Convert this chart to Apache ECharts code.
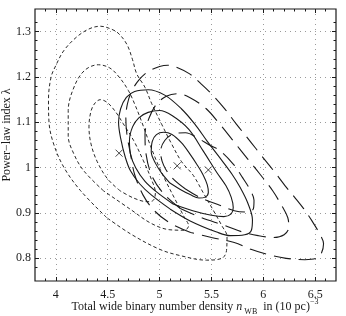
<!DOCTYPE html>
<html><head><meta charset="utf-8">
<script src="https://cdn.jsdelivr.net/npm/echarts@6/dist/echarts.min.js"></script>
<style>html,body{margin:0;padding:0;background:#fff}#c{width:346px;height:316px}</style>
</head><body><div id="c"></div>
<script>
// tick labels
const xTickLabels = [4, 4.5, 5, 5.5, 6, 6.5];
const yTickLabels = [0.8, 0.9, 1, 1.1, 1.2, 1.3];

// best-fit markers (x)
const bestFits = [[4.61, 1.032], [5.17, 1.004], [5.47, 0.995]];

// short-dashed contours (outer -> inner)
const dotted1 = [[4.49,0.89],[4.24,0.949],[4.08,1.0],[3.98,1.052],[3.935,1.10],[3.93,1.15],[3.955,1.20],[4.0,1.225],[4.077,1.258],[4.20,1.288],[4.32,1.306],[4.43,1.312],[4.52,1.307],[4.60,1.297],[4.685,1.272],[4.74,1.238],[4.78,1.207],[4.86,1.177],[4.925,1.141],[5.02,1.096],[5.117,1.052],[5.213,1.013],[5.325,0.983],[5.42,0.945],[5.52,0.905],[5.60,0.872],[5.65,0.848],[5.645,0.817],[5.60,0.800],[5.45,0.796],[5.20,0.806],[5.0,0.820],[4.72,0.854],[4.49,0.89]];
const dotted2 = [[4.46,0.949],[4.27,0.993],[4.175,1.03],[4.12,1.07],[4.12,1.126],[4.18,1.18],[4.28,1.215],[4.41,1.227],[4.52,1.220],[4.61,1.200],[4.70,1.170],[4.77,1.135],[4.83,1.100],[4.89,1.062],[4.97,1.015],[5.05,0.975],[5.15,0.930],[5.24,0.890],[5.28,0.872],[5.24,0.862],[5.10,0.863],[4.92,0.877],[4.72,0.908],[4.46,0.949]];
const dotted3 = [[4.62,0.949],[4.50,0.975],[4.40,1.013],[4.34,1.052],[4.32,1.09],[4.34,1.125],[4.38,1.143],[4.43,1.150],[4.50,1.143],[4.58,1.122],[4.65,1.097],[4.75,1.060],[4.845,1.015],[4.92,0.975],[4.96,0.945],[4.94,0.928],[4.88,0.925],[4.75,0.933],[4.62,0.949]];

// solid contours (outer -> inner)
const solid1 = [[5.10,0.909],[4.92,0.940],[4.81,0.964],[4.72,0.993],[4.67,1.023],[4.625,1.065],[4.605,1.10],[4.625,1.13],[4.68,1.155],[4.76,1.168],[4.89,1.172],[5.05,1.160],[5.21,1.130],[5.34,1.096],[5.46,1.058],[5.58,1.022],[5.70,0.985],[5.78,0.955],[5.85,0.922],[5.895,0.885],[5.885,0.862],[5.82,0.852],[5.68,0.850],[5.55,0.858],[5.30,0.882],[5.10,0.909]];
const solid2 = [[5.13,0.920],[4.98,0.945],[4.86,0.970],[4.77,1.0],[4.72,1.03],[4.71,1.06],[4.74,1.09],[4.80,1.11],[4.89,1.122],[5.0,1.126],[5.12,1.115],[5.28,1.085],[5.42,1.037],[5.55,0.990],[5.64,0.960],[5.69,0.935],[5.71,0.912],[5.69,0.898],[5.62,0.892],[5.50,0.895],[5.32,0.905],[5.13,0.920]];
const solid3 = [[5.10,0.966],[5.02,0.988],[4.96,1.010],[4.92,1.035],[4.93,1.058],[4.97,1.073],[5.04,1.078],[5.12,1.073],[5.21,1.055],[5.29,1.031],[5.36,1.007],[5.42,0.984],[5.46,0.962],[5.47,0.945],[5.44,0.935],[5.38,0.933],[5.30,0.940],[5.20,0.952],[5.10,0.966]];

// long-dashed contours (outer -> inner)
const dashed1 = [[5.30,0.857],[5.10,0.878],[4.95,0.905],[4.84,0.940],[4.76,0.985],[4.72,1.03],[4.685,1.075],[4.675,1.11],[4.69,1.14],[4.73,1.168],[4.80,1.193],[4.89,1.212],[5.0,1.223],[5.08,1.226],[5.18,1.220],[5.29,1.207],[5.40,1.185],[5.50,1.163],[5.62,1.132],[5.74,1.096],[5.86,1.062],[5.98,1.027],[6.10,0.993],[6.21,0.960],[6.30,0.935],[6.39,0.909],[6.47,0.882],[6.54,0.855],[6.58,0.832],[6.56,0.812],[6.51,0.800],[6.40,0.797],[6.22,0.800],[6.05,0.808],[5.88,0.820],[5.72,0.835],[5.50,0.846],[5.30,0.857]];
const dashed2 = [[5.20,0.910],[5.05,0.940],[4.93,0.980],[4.87,1.03],[4.86,1.075],[4.90,1.11],[4.97,1.14],[5.07,1.158],[5.18,1.163],[5.29,1.155],[5.45,1.130],[5.58,1.096],[5.70,1.062],[5.85,1.019],[5.97,0.985],[6.09,0.949],[6.18,0.915],[6.235,0.890],[6.245,0.868],[6.20,0.852],[6.10,0.846],[5.95,0.850],[5.80,0.858],[5.62,0.873],[5.40,0.890],[5.20,0.910]];
const dashed3 = [[5.25,0.953],[5.12,0.978],[5.04,1.005],[5.01,1.035],[5.05,1.06],[5.14,1.075],[5.25,1.077],[5.37,1.065],[5.48,1.050],[5.58,1.038],[5.71,1.008],[5.80,0.978],[5.87,0.952],[5.91,0.928],[5.905,0.910],[5.85,0.902],[5.72,0.905],[5.58,0.917],[5.40,0.933],[5.25,0.953]];

const near = (arr, v) => arr.some(t => Math.abs(t - v) < 1e-9);
const xMinor = []; for (let i = 39; i <= 66; i++) { const v = i / 10; if (!near(xTickLabels, v)) xMinor.push(v); }
const yMinor = []; for (let i = 39; i <= 66; i++) { const v = i / 50; if (!near(yTickLabels, v)) yMinor.push(v); }

const FONT = 'Liberation Serif';
const INK = '#1a1a1a';

function xAx(pos, vals, len, labels, split) {
  return {
    type: 'value', position: pos, min: 3.8, max: 6.7,
    axisLine: { show: false },
    axisTick: { show: true, inside: true, length: len, customValues: vals, lineStyle: { color: INK, width: 1 } },
    axisLabel: labels ? { show: true, customValues: xTickLabels, fontFamily: FONT, fontSize: 12, color: INK, margin: 8 } : { show: false },
    splitLine: { show: split, lineStyle: { color: '#9a9a9a', width: 1, type: [1, 4] } }
  };
}
function yAx(pos, vals, len, labels, split) {
  return {
    type: 'value', position: pos, min: 0.75, max: 1.35,
    axisLine: { show: false },
    axisTick: { show: true, inside: true, length: len, customValues: vals, lineStyle: { color: INK, width: 1 } },
    axisLabel: labels ? { show: true, customValues: yTickLabels, fontFamily: FONT, fontSize: 12, color: INK, margin: 4 } : { show: false },
    splitLine: { show: split, lineStyle: { color: '#9a9a9a', width: 1, type: [1, 4] } }
  };
}

function contour(data, type, color, width) {
  return { type: 'line', data: data, smooth: 0.35, showSymbol: false, symbol: 'none',
    lineStyle: { type: type, color: color, width: width }, silent: true, z: 3, xAxisIndex: 0, yAxisIndex: 0 };
}
const SHORT = [3.5, 2.5], LONG = [17, 8];

const chart = echarts.init(document.getElementById('c'), null, { renderer: 'canvas' });
chart.setOption({
  animation: false,
  backgroundColor: '#fff',
  grid: { left: 35, top: 9, right: 10, bottom: 35, show: true, borderColor: INK, borderWidth: 1.2, backgroundColor: 'transparent' },
  xAxis: [
    xAx('bottom', xTickLabels, 4, true, true),
    xAx('bottom', xMinor, 2.5, false, false),
    xAx('top', xTickLabels, 4, false, false),
    xAx('top', xMinor, 2.5, false, false)
  ],
  yAxis: [
    yAx('left', yTickLabels, 4, true, true),
    yAx('left', yMinor, 2.5, false, false),
    yAx('right', yTickLabels, 4, false, false),
    yAx('right', yMinor, 2.5, false, false)
  ],
  series: [
    contour(dotted1, SHORT, '#2a2a2a', 1),
    contour(dotted2, SHORT, '#2a2a2a', 1),
    contour(dotted3, SHORT, '#2a2a2a', 1),
    contour(dashed1, LONG, '#1a1a1a', 1.1),
    contour(dashed2, LONG, '#1a1a1a', 1.1),
    contour(dashed3, LONG, '#1a1a1a', 1.1),
    contour(solid1, 'solid', '#1a1a1a', 1.1),
    contour(solid2, 'solid', '#1a1a1a', 1.1),
    contour(solid3, 'solid', '#1a1a1a', 1.1),
    { type: 'scatter', data: bestFits, symbol: 'path://M0,0L10,10M10,0L0,10', symbolSize: 7, silent: true, z: 4,
      itemStyle: { color: 'transparent', borderColor: '#1a1a1a', borderWidth: 1 } }
  ],
  graphic: [
    { type: 'text', x: 195, y: 307, silent: true,
      style: { text: '{a|Total wide binary number density }{i|n}{s| WB}{a|  in (10 pc)}{p|−3}',
        textAlign: 'center', align: 'center', textVerticalAlign: 'middle', verticalAlign: 'middle', fill: INK,
        rich: {
          a: { fontFamily: FONT, fontSize: 12, lineHeight: 18, fill: INK, color: INK },
          i: { fontFamily: FONT, fontSize: 12, fontStyle: 'italic', lineHeight: 18, fill: INK, color: INK },
          s: { fontFamily: FONT, fontSize: 8, lineHeight: 9, verticalAlign: 'bottom', fill: INK, color: INK },
          p: { fontFamily: FONT, fontSize: 8, lineHeight: 9, verticalAlign: 'top', fill: INK, color: INK }
        } } },
    { type: 'text', x: 7, y: 135, rotation: Math.PI / 2, silent: true,
      style: { text: 'Power−law index λ', font: '12px "Liberation Serif"', textAlign: 'center', align: 'center',
        textVerticalAlign: 'middle', verticalAlign: 'middle', fill: INK } }
  ]
});
</script>
</body></html>
